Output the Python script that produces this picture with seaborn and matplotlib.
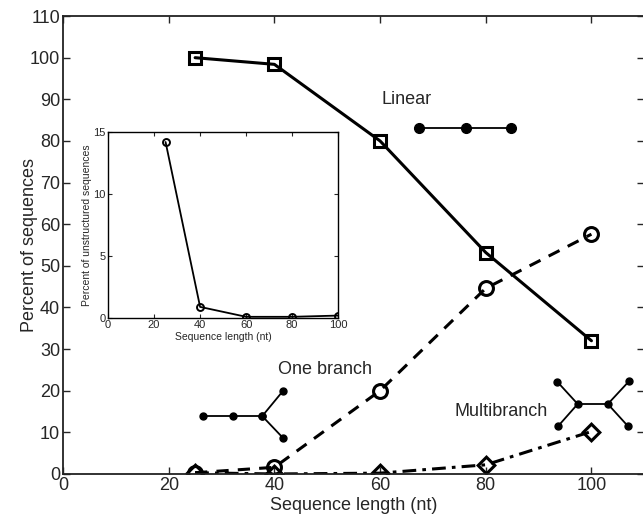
import pandas as pd
import matplotlib
matplotlib.use('Agg')
import matplotlib.pyplot as plt
import seaborn as sns

# Data
seq_len = [25, 40, 60, 80, 100]
linear = [100, 98.4, 80, 53.2, 32.0]
one_branch = [0.3, 1.6, 20.0, 44.6, 57.6]
multibranch = [0.3, 0.0, 0.2, 2.2, 10.2]

unstructured = [14.2, 0.9, 0.1, 0.1, 0.2]

# small structure sketches drawn on the plot (data units)
linear_glyph_x = [67.4, 76.3, 84.8]
linear_glyph_y = [83.2, 83.2, 83.2]
onebr_stem_x = [26.5, 32.1, 37.7]
onebr_stem_y = [13.9, 13.9, 13.9]
onebr_arms_x = [41.6, 37.7, 41.6]
onebr_arms_y = [19.9, 13.9, 8.7]
multi_left_x = [93.5, 97.4, 93.7]
multi_left_y = [22.2, 16.8, 11.5]
multi_right_x = [107.2, 103.1, 106.9]
multi_right_y = [22.4, 16.8, 11.5]

df = pd.DataFrame({'len': seq_len, 'Linear': linear, 'One branch': one_branch,
                   'Multibranch': multibranch, 'unstructured': unstructured})

sns.set_style('ticks')
plt.rcParams['font.family'] = ['Liberation Sans', 'DejaVu Sans']

fig = plt.figure(figsize=(6.43, 5.18), dpi=100)
ax = fig.add_axes([0.098, 0.085, 0.904, 0.884])

common = dict(color='k', markerfacecolor='none', markeredgecolor='k', ax=ax)
sns.lineplot(data=df, x='len', y='Linear', marker='s', markersize=8, markeredgewidth=2.2,
             linewidth=2.2, linestyle='-', **common)
sns.lineplot(data=df, x='len', y='One branch', marker='o', markersize=10, markeredgewidth=2.2,
             linewidth=2.2, **common)
ax.lines[-1].set_dashes([4, 3])
sns.lineplot(data=df, x='len', y='Multibranch', marker='D', markersize=9, markeredgewidth=2.2,
             linewidth=2.2, **common)
ax.lines[-1].set_dashes([4.5, 2, 1.2, 2])
ax.lines[-1].set_marker((4, 0, 0))
ax.lines[-1].set_markersize(12)

# structure sketches
ax.plot(linear_glyph_x, linear_glyph_y, 'k-o', lw=1.3, ms=7)
ax.plot(onebr_stem_x, onebr_stem_y, 'k-o', lw=1.3, ms=5)
ax.plot(onebr_arms_x, onebr_arms_y, 'k-o', lw=1.3, ms=5)
ax.plot(multi_left_x, multi_left_y, 'k-o', lw=1.3, ms=5)
ax.plot(multi_right_x, multi_right_y, 'k-o', lw=1.3, ms=5)
ax.plot([multi_left_x[1], multi_right_x[1]], [multi_left_y[1], multi_right_y[1]], 'k-', lw=1.3)

ax.text(60.2, 89.9, 'Linear', fontsize=13, va='center')
ax.text(40.7, 25.2, 'One branch', fontsize=13, va='center')
ax.text(74.1, 15.0, 'Multibranch', fontsize=13, va='center')

ax.set_xlim(0, 110)
ax.set_ylim(0, 110)
ax.set_xticks(range(0, 101, 20))
ax.set_yticks(range(0, 111, 10))
ax.set_xlabel('Sequence length (nt)', fontsize=13, labelpad=2)
ax.set_ylabel('Percent of sequences', fontsize=13, labelpad=-6)
ax.tick_params(direction='in', top=True, right=True, labelsize=13, length=5, width=1, pad=2)
for s in ax.spines.values():
    s.set_linewidth(1.3)
    s.set_color('#222222')
    s.set_visible(True)

# inset: unstructured sequences
ins = fig.add_axes([0.168, 0.386, 0.358, 0.359])
sns.lineplot(data=df, x='len', y='unstructured', marker='o', color='k', markersize=5,
             markerfacecolor='none', markeredgecolor='k', markeredgewidth=1.4,
             linewidth=1.3, ax=ins)
ins.set_xlim(0, 100)
ins.set_ylim(0, 15)
ins.set_xticks(range(0, 101, 20))
ins.set_yticks([0, 5, 10, 15])
ins.set_xlabel('Sequence length (nt)', fontsize=7.5, labelpad=1)
ins.set_ylabel('Percent of unstructured sequences', fontsize=7.5, labelpad=1)
ins.tick_params(direction='in', top=True, right=True, labelsize=8, length=3, width=0.8, pad=1.5)
for s in ins.spines.values():
    s.set_linewidth(1)
    s.set_color('k')
    s.set_visible(True)

fig.savefig('out.png', dpi=100)
